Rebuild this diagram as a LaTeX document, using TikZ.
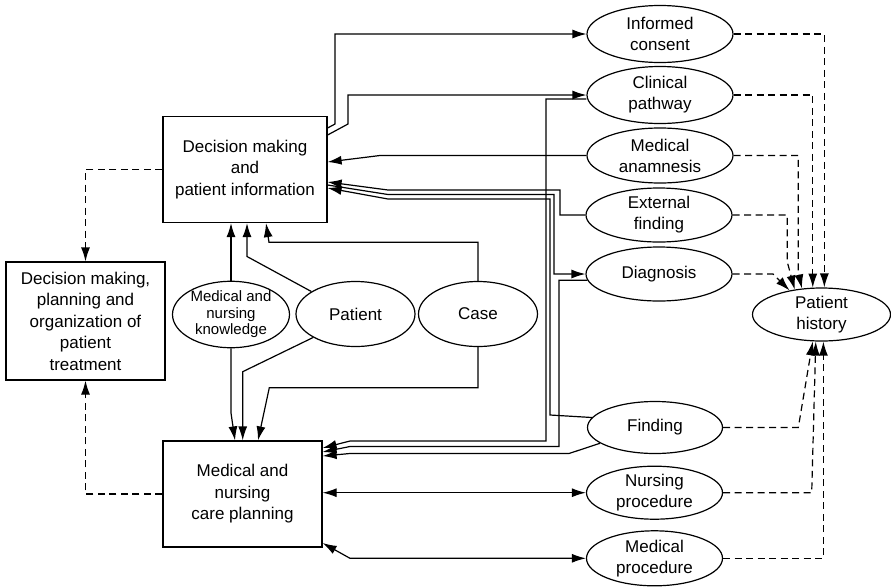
\documentclass[tikz,border=0pt]{standalone}
\usepackage{fontspec}
\setmainfont{Liberation Sans}
\usetikzlibrary{shapes.geometric,arrows.meta}
\begin{document}
\begin{tikzpicture}[x=1pt,y=-1pt,>={Latex[length=14pt,width=9pt]},line width=1.2pt,
  box/.style={draw,rectangle,align=center,inner sep=0pt,font=\fontsize{17}{21.5}\selectfont},
  oval/.style={draw,ellipse,align=center,inner sep=0pt,font=\fontsize{17}{21}\selectfont},
  dashed link/.style={dash pattern=on 7pt off 4.5pt}]
\useasboundingbox (0,0) rectangle (891,587);
\node [box,minimum width=164pt,minimum height=106pt] (dmpi) at (245,169.5) {Decision making\\and\\patient information};
\node [box,minimum width=159pt,minimum height=118pt] (plan) at (85.5,321) {Decision making,\\planning and\\organization of\\patient\\treatment};
\node [box,minimum width=159pt,minimum height=106pt] (care) at (242.5,494) {Medical and\\nursing\\care planning};
\node [oval,minimum width=117pt,minimum height=66pt,font=\fontsize{15}{16.5}\selectfont] (know) at (231,314.5) {Medical and\\nursing\\knowledge};
\node [oval,minimum width=119pt,minimum height=65pt] (patient) at (355.5,314) {Patient};
\node [oval,minimum width=119pt,minimum height=65pt] (case) at (478,314) {Case};
\node [oval,minimum width=146pt,minimum height=57pt] (consent) at (660,34) {Informed\\consent};
\node [oval,minimum width=146pt,minimum height=57pt] (pathway) at (660,95) {Clinical\\pathway};
\node [oval,minimum width=146pt,minimum height=55pt] (anam) at (660,155.5) {Medical\\anamnesis};
\node [oval,minimum width=146pt,minimum height=54pt] (extf) at (659,215) {External\\finding};
\node [oval,minimum width=146pt,minimum height=54pt] (diag) at (659,274) {Diagnosis};
\node [oval,minimum width=138pt,minimum height=53pt] (hist) at (821.5,314.5) {Patient\\history};
\node [oval,minimum width=135pt,minimum height=52pt] (finding) at (655,427.5) {Finding};
\node [oval,minimum width=136pt,minimum height=53pt] (nursing) at (654.5,492.7) {Nursing\\procedure};
\node [oval,minimum width=136pt,minimum height=55pt] (medproc) at (654.5,558.3) {Medical\\procedure};
\draw [->] (dmpi.east |- 0,128) -- (335,124) |- (consent.west);
\draw [->] (dmpi.east |- 0,135) -- (348,124) |- (pathway.west);
\draw [->] (pathway.west |- 0,99) -- (546,99) -- (546,441) -- (350,441) -- (care.east |- 0,448);
\draw [->] (anam.west) -- (380,155.5) -- (dmpi.east |- 0,162);
\draw [->] (extf.west) -| (560,190) -- (388,190) -- (dmpi.east |- 0,182);
\draw [->] (dmpi.east |- 0,185) -- (388,194.5) -- (554,194.5) |- (diag.west);
\draw [->] (diag.185) -| (559,446.5) -- (350,446.5) -- (care.east |- 0,452);
\draw [->] (finding.171) -- (550,415) -- (550,199) -- (388,199) -- (dmpi.east |- 0,188);
\draw [->] (finding.196) -- (569,453.5) -- (350,453.5) -- (care.east |- 0,456);
\draw [<->] (care.east |- nursing.west) -- (nursing.west);
\draw [<->] (care.east |- 0,543) -- (350,558.3) -- (medproc.west);
\draw [->] (know.north) -- (dmpi.south -| know.north);
\draw [->] (patient.153) -- (247,256.5) -- (dmpi.south -| 247,0);
\draw [->] (case.north) |- (269,242.3) -- (dmpi.south -| 266,0);
\draw [->] (know.south) -- (231,413) -- (care.north -| 235,0);
\draw [->] (patient.209) -- (242.7,371.7) -- (care.north -| 242.7,0);
\draw [->] (case.south) |- (269.3,387.7) -- (care.north -| 258,0);
\draw [->,dashed link] (dmpi.west) -| (plan.north);
\draw [->,dashed link] (care.west) -| (plan.south);
\draw [->,dashed link] (consent.east) -| (hist.84);
\draw [->,dashed link] (pathway.east) -| (hist.108);
\draw [->,dashed link] (anam.east) -- (798.3,155.5) -- (798.3,272) -- (hist.127);
\draw [->,dashed link] (extf.east) -- (787.3,215) -- (787.3,262) -- (hist.137);
\draw [->,dashed link] (diag.east) -- (773,274) -- (hist.143);
\draw [->,dashed link] (finding.east) -- (798.3,427.5) -- (hist.252);
\draw [->,dashed link] (nursing.east) -- (811.7,492.7) -- (hist.258);
\draw [->,dashed link] (medproc.east) -| (hist.274);
\end{tikzpicture}
\end{document}
